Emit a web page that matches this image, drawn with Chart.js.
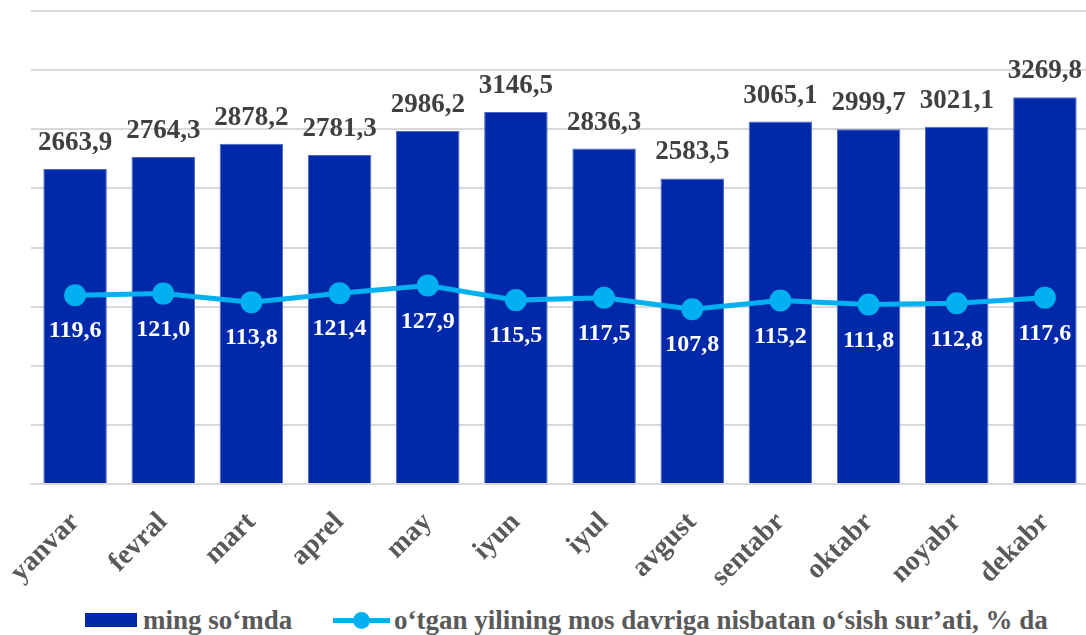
<!DOCTYPE html>
<html>
<head>
<meta charset="utf-8">
<script src="https://cdn.jsdelivr.net/npm/chart.js@4.4.1/dist/chart.umd.min.js"></script>
<style>
  html, body { margin: 0; padding: 0; background: #fff; overflow: hidden; width: 1086px; height: 635px; }
  #wrap { position: relative; width: 1100px; height: 600px; }
  #legend { position: absolute; left: 0; top: 604px; width: 1086px; height: 32px;
    font-family: "Liberation Serif", "Times New Roman", serif; font-weight: bold; font-size: 27px; color: #595959; }
  .item { position: absolute; top: 0; display: flex; align-items: center; height: 32px; white-space: nowrap; }
  .box { width: 52px; height: 14px; background: #0029AA; margin-right: 6px; }
  .ln { position: relative; width: 57px; height: 5px; background: #00B0F0; margin-right: 4px; }
  .ln::after { content: ""; position: absolute; left: 20px; top: -6px; width: 17px; height: 17px; border-radius: 50%; background: #00B0F0; }
</style>
</head>
<body>
<div id="wrap"><canvas id="chart"></canvas></div>
<div id="legend">
  <div class="item" style="left:85px"><span class="box"></span>ming so‘mda</div>
  <div class="item" style="left:333px"><span class="ln"></span>o‘tgan yilining mos davriga nisbatan o‘sish sur’ati, % da</div>
</div>
<script>
// oylar va qiymatlar
const months = ['yanvar', 'fevral', 'mart', 'aprel', 'may', 'iyun', 'iyul', 'avgust', 'sentabr', 'oktabr', 'noyabr', 'dekabr'];
const amounts = [2663.9, 2764.3, 2878.2, 2781.3, 2986.2, 3146.5, 2836.3, 2583.5, 3065.1, 2999.7, 3021.1, 3269.8];
const growth = [119.6, 121.0, 113.8, 121.4, 127.9, 115.5, 117.5, 107.8, 115.2, 111.8, 112.8, 117.6];

const FONT = '"Liberation Serif", "Times New Roman", serif';

function fmt(v) {
    return v.toFixed(1).replace('.', ',');
}

// qiymat yorliqlari
const valueLabels = {
    id: 'valueLabels',
    afterDatasetsDraw(chart) {
        const ctx = chart.ctx;
        ctx.save();
        ctx.textAlign = 'center';
        ctx.textBaseline = 'middle';

        const bars = chart.getDatasetMeta(0).data;
        ctx.font = 'bold 27px ' + FONT;
        ctx.fillStyle = '#404040';
        bars.forEach((b, i) => ctx.fillText(fmt(amounts[i]), b.x, b.y - 26));

        const pts = chart.getDatasetMeta(1).data;
        ctx.font = 'bold 24px ' + FONT;
        ctx.fillStyle = '#ffffff';
        pts.forEach((p, i) => ctx.fillText(fmt(growth[i]), p.x, p.y + 36));
        ctx.restore();
    }
};

const chart = new Chart(document.getElementById('chart'), {
    data: {
        labels: months,
        datasets: [
            {
                type: 'bar',
                label: 'ming so‘mda',
                data: amounts,
                backgroundColor: '#0029AA',
                borderColor: '#4a68c4',
                borderWidth: 1,
                categoryPercentage: 1,
                barPercentage: 0.72,
                yAxisID: 'y',
                order: 2
            },
            {
                type: 'line',
                label: 'o‘tgan yilining mos davriga nisbatan o‘sish sur’ati, % da',
                data: growth,
                borderColor: '#00B0F0',
                backgroundColor: '#00B0F0',
                borderWidth: 5,
                pointRadius: 11,
                pointHoverRadius: 11,
                pointBorderWidth: 0,
                tension: 0,
                yAxisID: 'y1',
                order: 1
            }
        ]
    },
    options: {
        responsive: true,
        maintainAspectRatio: false,
        animation: false,
        layout: { padding: { left: 31, right: 0, top: 10, bottom: 0 } },
        plugins: {
            legend: { display: false },
            tooltip: { enabled: false }
        },
        scales: {
            x: {
                grid: { display: false },
                border: { color: '#d9d9d9', width: 2 },
                ticks: {
                    minRotation: 45,
                    maxRotation: 45,
                    padding: 14,
                    color: '#595959',
                    font: { family: FONT, size: 28, weight: 'bold' }
                },
                afterFit: (s) => { s.height = 116; }
            },
            y: {
                min: 0,
                max: 4000,
                ticks: { display: false, stepSize: 500 },
                grid: { color: '#d9d9d9', lineWidth: 2, drawTicks: false },
                border: { display: false },
                afterFit: (s) => { s.width = 0; }
            },
            y1: {
                position: 'right',
                display: false,
                min: -40,
                max: 360
            }
        }
    },
    plugins: [valueLabels]
});
</script>
</body>
</html>
